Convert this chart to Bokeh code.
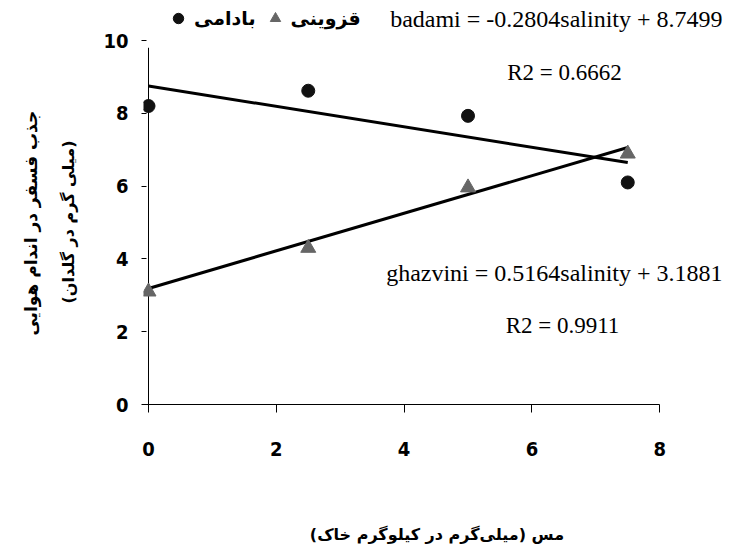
from bokeh.plotting import figure
from bokeh.models import Range1d, FixedTicker, Label, Legend, LegendItem, LinearAxis
from bokeh.embed import file_html
from bokeh.resources import INLINE

# ---- data ----
copper = [0, 2.5, 5, 7.5]
badami = [8.2, 8.62, 7.93, 6.1]
ghazvini = [3.1, 4.3, 5.96, 6.89]
badami_fit = (-0.2804, 8.7499)
ghazvini_fit = (0.5164, 3.1881)
badami_r2 = 0.6662
ghazvini_r2 = 0.9911
x_ticks = [0, 2, 4, 6, 8]
y_ticks = [0, 2, 4, 6, 8, 10]
series_names = ["بادامی", "قزوینی"]
x_title = "مس (میلی‌گرم در کیلوگرم خاک)"
y_title_1 = "جذب فسفر در اندام هوایی"
y_title_2 = "(میلی گرم در گلدان)"

TICK_FONT = "'Liberation Sans Narrow', 'DejaVu Sans Condensed', sans-serif"
FA_FONT = "'DejaVu Sans', sans-serif"
EQ_FONT = "'Liberation Serif', serif"
PAD = "\u00a0" * 7   # pushes the rotated titles down to centre them on the 0..10 span

# pixel geometry: x=0 at 148, 63.9 px/unit ; y=0 at 404, 36.4 px/unit
W, H = 730, 546
XPX, YPX = 63.9, 36.4
x_lo = -5 / XPX
x_hi = x_lo + (W - 143) / XPX
y_hi = 404 / YPX

p = figure(width=W, height=H, output_backend="svg", toolbar_location=None,
           x_range=Range1d(x_lo, x_hi), y_range=Range1d(0, y_hi))
p.min_border_left = 143
p.min_border_right = 0
p.min_border_top = 0
p.min_border_bottom = H - 404
p.outline_line_color = None
p.xgrid.grid_line_color = None
p.ygrid.grid_line_color = None
p.background_fill_color = "white"
p.border_fill_color = "white"

# x axis
xa = p.xaxis[0]
xa.ticker = FixedTicker(ticks=x_ticks)
xa.bounds = (x_lo, x_ticks[-1])
xa.axis_line_color = "black"
xa.axis_line_width = 1
xa.major_tick_line_color = "black"
xa.major_tick_out = 8
xa.major_tick_in = 0
xa.minor_tick_line_color = None
xa.major_label_text_font = TICK_FONT
xa.major_label_text_font_style = "bold"
xa.major_label_text_font_size = "20px"
xa.major_label_text_color = "black"
xa.major_label_standoff = 29
xa.axis_label = x_title
xa.axis_label_text_font = FA_FONT
xa.axis_label_text_font_style = "bold"
xa.axis_label_text_font_size = "16px"
xa.axis_label_text_color = "black"
xa.axis_label_standoff = 66

# y axis (ticks + second title line)
ya = p.yaxis[0]
ya.ticker = FixedTicker(ticks=y_ticks)
ya.bounds = (0, y_ticks[-1])
ya.axis_line_color = None
ya.major_tick_line_color = "black"
ya.major_tick_out = 2
ya.major_tick_in = 3
ya.minor_tick_line_color = None
ya.major_label_text_font = TICK_FONT
ya.major_label_text_font_style = "bold"
ya.major_label_text_font_size = "20px"
ya.major_label_text_color = "black"
ya.major_label_standoff = 13
ya.axis_label = y_title_2 + PAD
ya.axis_label_text_font = FA_FONT
ya.axis_label_text_font_style = "bold"
ya.axis_label_text_font_size = "16px"
ya.axis_label_text_color = "black"
ya.axis_label_standoff = 22

# outer axis carrying only the first title line
ya2 = LinearAxis(ticker=FixedTicker(ticks=[]), axis_label=y_title_1 + PAD)
ya2.axis_line_color = None
ya2.major_tick_line_color = None
ya2.minor_tick_line_color = None
ya2.major_tick_out = 0
ya2.major_tick_in = 0
ya2.major_label_standoff = 0
ya2.axis_label_text_font = FA_FONT
ya2.axis_label_text_font_style = "bold"
ya2.axis_label_text_font_size = "17px"
ya2.axis_label_text_color = "black"
ya2.axis_label_standoff = 16
p.add_layout(ya2, "left")

# vertical axis line at x = 0
p.segment(x0=[0], y0=[0], x1=[0], y1=[9.8], line_color="black", line_width=1)

# trend lines
xs = [copper[0], copper[-1]]
p.line(xs, [badami_fit[0] * v + badami_fit[1] for v in xs], line_color="black", line_width=3)
p.line(xs, [ghazvini_fit[0] * v + ghazvini_fit[1] for v in xs], line_color="black", line_width=3)

# points
r_b = p.scatter(copper, badami, marker="circle", size=13, fill_color="#111111", line_color="#111111")
r_g = p.scatter(copper, ghazvini, marker="triangle", size=15, fill_color="#666666", line_color="#666666")

legend = Legend(items=[LegendItem(label=series_names[0], renderers=[r_b]),
                       LegendItem(label=series_names[1], renderers=[r_g])],
                orientation="horizontal", location=(22, 373))
legend.border_line_color = None
legend.background_fill_alpha = 0
legend.padding = 0
legend.margin = 0
legend.spacing = 6
legend.label_standoff = 3
legend.glyph_width = 26
legend.glyph_height = 26
legend.label_height = 26
legend.label_text_font = FA_FONT
legend.label_text_font_style = "bold"
legend.label_text_font_size = "19px"
legend.label_text_color = "black"
p.add_layout(legend, "center")

def lab(x, y, text, size="23px", align="center"):
    p.add_layout(Label(x=x, y=y, text=text, text_font=EQ_FONT, text_font_size=size,
                       text_align=align, text_baseline="middle", text_color="black"))

def dx(px):
    return (px - 148) / XPX

def dy(py):
    return (404 - py) / YPX

lab(dx(722), dy(18), "badami = %.4fsalinity + %.4f" % badami_fit, size="24px", align="right")
lab(dx(564), dy(72), "R2 = %.4f" % badami_r2)
lab(dx(722), dy(272), "ghazvini = %.4fsalinity + %.4f" % ghazvini_fit, size="24px", align="right")
lab(dx(562), dy(325), "R2 = %.4f" % ghazvini_r2)

open("out.html", "w").write(file_html(p, INLINE))
